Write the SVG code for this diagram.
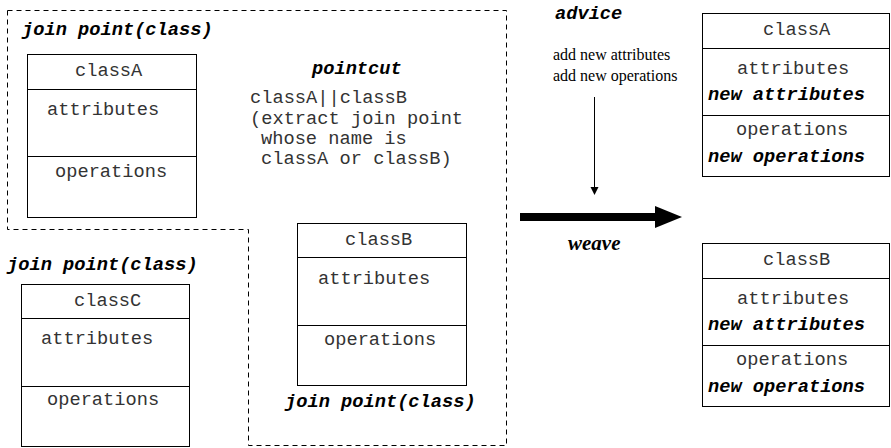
<svg xmlns="http://www.w3.org/2000/svg" width="891" height="448" viewBox="0 0 891 448">
  <style>
    .box { fill: #fff; stroke: #000; stroke-width: 1; }
    .sep { stroke: #000; stroke-width: 1; }
    .mono { font-family: "Liberation Mono", "Courier New", monospace; font-size: 18.7px; fill: #333; }
    .monob { font-family: "Liberation Mono", "Courier New", monospace; font-size: 18.7px; font-weight: bold; font-style: italic; fill: #000; }
    .serif { font-family: "Liberation Serif", "Times New Roman", serif; font-size: 16px; fill: #000; }
    .serifb { font-family: "Liberation Serif", "Times New Roman", serif; font-size: 21px; font-weight: bold; font-style: italic; fill: #000; }
    .dash { fill: none; stroke: #000; stroke-width: 1; stroke-dasharray: 5 4; }
  </style>

  <!-- join point region outline -->
  <g id="joinpoint-region">
    <path class="dash" d="M7.5,10.5 H506.5 V445.5 H248.5 V229.5 H7.5 Z"/>
    <text class="monob" x="22" y="35">join point(class)</text>
    <text class="monob" x="7" y="270">join point(class)</text>
    <text class="monob" x="285" y="407">join point(class)</text>
  </g>

  <!-- source classes -->
  <g id="classA">
    <rect class="box" x="27.5" y="54.5" width="169" height="163"/>
    <line class="sep" x1="27.5" y1="89.5" x2="196.5" y2="89.5"/>
    <line class="sep" x1="27.5" y1="156.5" x2="196.5" y2="156.5"/>
    <text class="mono" x="75" y="76">classA</text>
    <text class="mono" x="47" y="115">attributes</text>
    <text class="mono" x="55" y="177">operations</text>
  </g>

  <g id="classB">
    <rect class="box" x="297.5" y="223.5" width="169" height="162"/>
    <line class="sep" x1="297.5" y1="257.5" x2="466.5" y2="257.5"/>
    <line class="sep" x1="297.5" y1="325.5" x2="466.5" y2="325.5"/>
    <text class="mono" x="345" y="245">classB</text>
    <text class="mono" x="318" y="284">attributes</text>
    <text class="mono" x="324" y="345">operations</text>
  </g>

  <g id="classC">
    <rect class="box" x="21.5" y="284.5" width="168" height="162"/>
    <line class="sep" x1="21.5" y1="318.5" x2="189.5" y2="318.5"/>
    <line class="sep" x1="21.5" y1="386.5" x2="189.5" y2="386.5"/>
    <text class="mono" x="74" y="306">classC</text>
    <text class="mono" x="41" y="344">attributes</text>
    <text class="mono" x="47" y="405">operations</text>
  </g>

  <!-- pointcut expression -->
  <g id="pointcut">
    <text class="monob" x="312" y="74">pointcut</text>
    <text class="mono" x="250" y="103">classA||classB</text>
    <text class="mono" x="250" y="124">(extract join point</text>
    <text class="mono" x="261" y="144">whose name is</text>
    <text class="mono" x="261" y="164">classA or classB)</text>
  </g>

  <!-- advice -->
  <g id="advice">
    <text class="monob" x="555" y="19">advice</text>
    <text class="serif" x="553" y="60">add new attributes</text>
    <text class="serif" x="553" y="81">add new operations</text>
  </g>

  <!-- woven classes -->
  <g id="wovenA">
    <rect class="box" x="702.5" y="13.5" width="187" height="163"/>
    <line class="sep" x1="702.5" y1="48.5" x2="889.5" y2="48.5"/>
    <line class="sep" x1="702.5" y1="115.5" x2="889.5" y2="115.5"/>
    <text class="mono" x="763" y="35">classA</text>
    <text class="mono" x="737" y="74">attributes</text>
    <text class="monob" x="708" y="100">new attributes</text>
    <text class="mono" x="736" y="135">operations</text>
    <text class="monob" x="708" y="162">new operations</text>
  </g>

  <g id="wovenB">
    <rect class="box" x="702.5" y="243.5" width="187" height="163"/>
    <line class="sep" x1="702.5" y1="278.5" x2="889.5" y2="278.5"/>
    <line class="sep" x1="702.5" y1="345.5" x2="889.5" y2="345.5"/>
    <text class="mono" x="763" y="265">classB</text>
    <text class="mono" x="737" y="304">attributes</text>
    <text class="monob" x="708" y="330">new attributes</text>
    <text class="mono" x="736" y="365">operations</text>
    <text class="monob" x="708" y="392">new operations</text>
  </g>

  <!-- connectors -->
  <g id="connectors">
    <line x1="594.5" y1="97" x2="594.5" y2="188" stroke="#000" stroke-width="1"/>
    <polygon points="590.5,187 598.5,187 594.5,195" fill="#000"/>
    <rect x="520" y="213" width="136" height="8" fill="#000"/>
    <polygon points="655,206 682,217 655,228" fill="#000"/>
    <text class="serifb" x="568" y="250">weave</text>
  </g>
</svg>
